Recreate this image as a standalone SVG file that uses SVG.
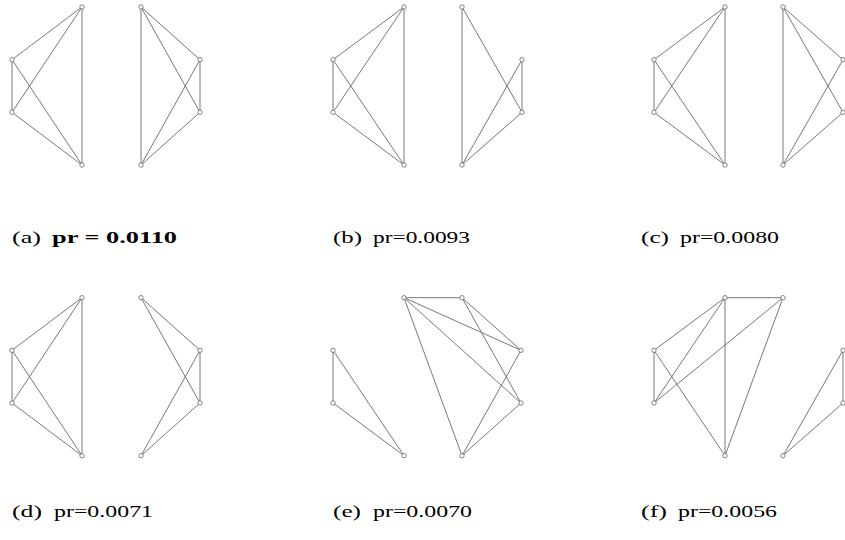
<svg xmlns="http://www.w3.org/2000/svg" width="845" height="540" viewBox="0 0 845 540">
<style>
.e{stroke:#555;stroke-width:0.8;fill:none}
.n{fill:#fff;stroke:#666;stroke-width:0.8}
.t{font-family:"Liberation Serif","DejaVu Serif",serif;font-size:17px;fill:#000}
.b{font-weight:bold}
</style>
<rect width="845" height="540" fill="#fff"/>
<g id="connectors">
<!-- a -->
<path class="e" d="M82 7L12 59.7M82 7L12 112.3M82 7L82 165M12 59.7L12 112.3M12 59.7L82 165M12 112.3L82 165"/>
<path class="e" d="M141 7L200 59.7M141 7L200 112.3M141 7L141 165M200 59.7L200 112.3M200 59.7L141 165M200 112.3L141 165"/>
<!-- b -->
<path class="e" d="M404 7L333 59.7M404 7L333 112.3M404 7L404 165M333 59.7L333 112.3M333 59.7L404 165M333 112.3L404 165"/>
<path class="e" d="M462 7L462 165M462 7L522 112.3M522 59.7L522 112.3M522 59.7L462 165M522 112.3L462 165"/>
<!-- c -->
<path class="e" d="M725 7L654 59.7M725 7L654 112.3M725 7L725 165M654 59.7L654 112.3M654 59.7L725 165M654 112.3L725 165"/>
<path class="e" d="M783 7L783 165M783 7L843 59.7M783 7L843 112.3M843 59.7L783 165M843 112.3L783 165"/>
<!-- d -->
<path class="e" d="M82 297.7L12 350.3M82 297.7L12 403M82 297.7L82 455.7M12 350.3L12 403M12 350.3L82 455.7M12 403L82 455.7"/>
<path class="e" d="M141 297.7L200 350.3M141 297.7L200 403M200 350.3L200 403M200 350.3L141 455.7M200 403L141 455.7"/>
<!-- e -->
<path class="e" d="M404 297.7L462 297.7M404 297.7L521 350.3M404 297.7L521 403M404 297.7L462 455.7M462 297.7L521 350.3M462 297.7L521 403M521 350.3L462 455.7M521 403L462 455.7"/>
<path class="e" d="M333 350.3L333 403M333 350.3L404 455.7M333 403L404 455.7"/>
<!-- f -->
<path class="e" d="M725 297.7L783 297.7M725 297.7L654 350.3M725 297.7L654 403M725 297.7L725 455.7M783 297.7L654 403M783 297.7L725 455.7M654 350.3L654 403M654 350.3L725 455.7"/>
<path class="e" d="M843 350.3L843 403M843 350.3L783 455.7M843 403L783 455.7"/>
</g>
<g id="panel-a">
<g id="a1"><circle class="n" cx="82" cy="7" r="2.2"/></g>
<g id="a2"><circle class="n" cx="12" cy="59.7" r="2.2"/></g>
<g id="a3"><circle class="n" cx="12" cy="112.3" r="2.2"/></g>
<g id="a4"><circle class="n" cx="82" cy="165" r="2.2"/></g>
<g id="a5"><circle class="n" cx="141" cy="7" r="2.2"/></g>
<g id="a6"><circle class="n" cx="200" cy="59.7" r="2.2"/></g>
<g id="a7"><circle class="n" cx="200" cy="112.3" r="2.2"/></g>
<g id="a8"><circle class="n" cx="141" cy="165" r="2.2"/></g>
<text class="t" x="12" y="243" textLength="29" lengthAdjust="spacingAndGlyphs">(a)</text>
<text class="t b" x="52" y="243" textLength="125" lengthAdjust="spacingAndGlyphs">pr = 0.0110</text>
</g>
<g id="panel-b">
<g id="b1"><circle class="n" cx="404" cy="7" r="2.2"/></g>
<g id="b2"><circle class="n" cx="333" cy="59.7" r="2.2"/></g>
<g id="b3"><circle class="n" cx="333" cy="112.3" r="2.2"/></g>
<g id="b4"><circle class="n" cx="404" cy="165" r="2.2"/></g>
<g id="b5"><circle class="n" cx="462" cy="7" r="2.2"/></g>
<g id="b6"><circle class="n" cx="522" cy="59.7" r="2.2"/></g>
<g id="b7"><circle class="n" cx="522" cy="112.3" r="2.2"/></g>
<g id="b8"><circle class="n" cx="462" cy="165" r="2.2"/></g>
<text class="t" x="333" y="243" textLength="29" lengthAdjust="spacingAndGlyphs">(b)</text>
<text class="t" x="373" y="243" textLength="97" lengthAdjust="spacingAndGlyphs">pr=0.0093</text>
</g>
<g id="panel-c">
<g id="c1"><circle class="n" cx="725" cy="7" r="2.2"/></g>
<g id="c2"><circle class="n" cx="654" cy="59.7" r="2.2"/></g>
<g id="c3"><circle class="n" cx="654" cy="112.3" r="2.2"/></g>
<g id="c4"><circle class="n" cx="725" cy="165" r="2.2"/></g>
<g id="c5"><circle class="n" cx="783" cy="7" r="2.2"/></g>
<g id="c6"><circle class="n" cx="843" cy="59.7" r="2.2"/></g>
<g id="c7"><circle class="n" cx="843" cy="112.3" r="2.2"/></g>
<g id="c8"><circle class="n" cx="783" cy="165" r="2.2"/></g>
<text class="t" x="641" y="243" textLength="28" lengthAdjust="spacingAndGlyphs">(c)</text>
<text class="t" x="680" y="243" textLength="99" lengthAdjust="spacingAndGlyphs">pr=0.0080</text>
</g>
<g id="panel-d">
<g id="d1"><circle class="n" cx="82" cy="297.7" r="2.2"/></g>
<g id="d2"><circle class="n" cx="12" cy="350.3" r="2.2"/></g>
<g id="d3"><circle class="n" cx="12" cy="403" r="2.2"/></g>
<g id="d4"><circle class="n" cx="82" cy="455.7" r="2.2"/></g>
<g id="d5"><circle class="n" cx="141" cy="297.7" r="2.2"/></g>
<g id="d6"><circle class="n" cx="200" cy="350.3" r="2.2"/></g>
<g id="d7"><circle class="n" cx="200" cy="403" r="2.2"/></g>
<g id="d8"><circle class="n" cx="141" cy="455.7" r="2.2"/></g>
<text class="t" x="12" y="517" textLength="30" lengthAdjust="spacingAndGlyphs">(d)</text>
<text class="t" x="54" y="517" textLength="99" lengthAdjust="spacingAndGlyphs">pr=0.0071</text>
</g>
<g id="panel-e">
<g id="e1"><circle class="n" cx="404" cy="297.7" r="2.2"/></g>
<g id="e2"><circle class="n" cx="462" cy="297.7" r="2.2"/></g>
<g id="e3"><circle class="n" cx="521" cy="350.3" r="2.2"/></g>
<g id="e4"><circle class="n" cx="521" cy="403" r="2.2"/></g>
<g id="e5"><circle class="n" cx="462" cy="455.7" r="2.2"/></g>
<g id="e6"><circle class="n" cx="404" cy="455.7" r="2.2"/></g>
<g id="e7"><circle class="n" cx="333" cy="350.3" r="2.2"/></g>
<g id="e8"><circle class="n" cx="333" cy="403" r="2.2"/></g>
<text class="t" x="333" y="517" textLength="28" lengthAdjust="spacingAndGlyphs">(e)</text>
<text class="t" x="373" y="517" textLength="99" lengthAdjust="spacingAndGlyphs">pr=0.0070</text>
</g>
<g id="panel-f">
<g id="f1"><circle class="n" cx="725" cy="297.7" r="2.2"/></g>
<g id="f2"><circle class="n" cx="783" cy="297.7" r="2.2"/></g>
<g id="f3"><circle class="n" cx="843" cy="350.3" r="2.2"/></g>
<g id="f4"><circle class="n" cx="843" cy="403" r="2.2"/></g>
<g id="f5"><circle class="n" cx="783" cy="455.7" r="2.2"/></g>
<g id="f6"><circle class="n" cx="725" cy="455.7" r="2.2"/></g>
<g id="f7"><circle class="n" cx="654" cy="350.3" r="2.2"/></g>
<g id="f8"><circle class="n" cx="654" cy="403" r="2.2"/></g>
<text class="t" x="641" y="517" textLength="26" lengthAdjust="spacingAndGlyphs">(f)</text>
<text class="t" x="678" y="517" textLength="99" lengthAdjust="spacingAndGlyphs">pr=0.0056</text>
</g>
</svg>
